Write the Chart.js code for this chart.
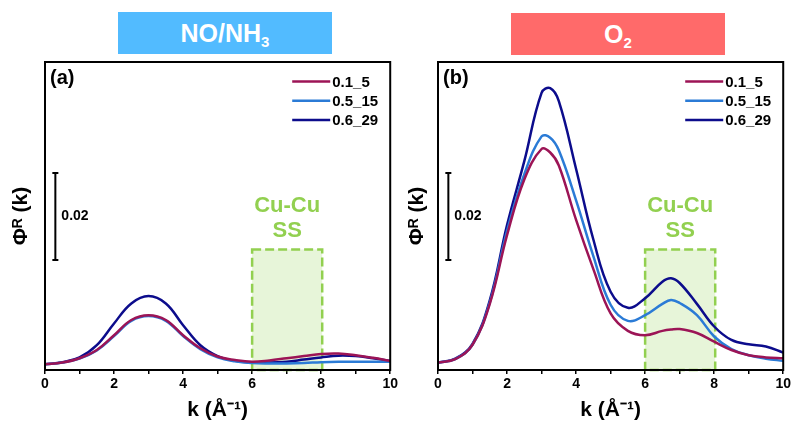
<!DOCTYPE html>
<html>
<head>
<meta charset="utf-8">
<script src="https://cdn.jsdelivr.net/npm/chart.js@4.4.0/dist/chart.umd.min.js"></script>
<style>
  body { margin: 0; background: #fff; width: 793px; height: 423px; overflow: hidden; position: relative;
         font-family: Arial, "Liberation Sans", sans-serif; }
  .tag { position: absolute; height: 42px; line-height: 42px; color: #fff; font-weight: bold;
         font-size: 25px; text-align: center; }
  .tag sub { font-size: 15px; vertical-align: -5px; line-height: 0; }
  #tagA { left: 118px; top: 12px; width: 214px; background: #52bbff; }
  #tagB { left: 511px; top: 13px; width: 214px; background: #ff6a6a; }
  canvas { position: absolute; top: 0; }
  #chartA { left: 0; }
  #chartB { left: 396px; }
</style>
</head>
<body>
<div class="tag" id="tagA">NO/NH<sub>3</sub></div>
<div class="tag" id="tagB">O<sub>2</sub></div>
<canvas id="chartA" width="400" height="423"></canvas>
<canvas id="chartB" width="397" height="423"></canvas>
<script>
const seriesLabels = ['0.1_5', '0.5_15', '0.6_29'];
const seriesColors = ['#9c1456', '#2b7bd6', '#0c0c8c'];

// (a) NO/NH3
const kA = [0, 0.5, 1, 1.5, 2, 2.5, 3, 3.5, 4, 4.5, 5, 5.5, 6, 6.5, 7, 7.5, 8, 8.5, 9, 9.5, 10];
const a_01_5  = [0.0013, 0.0017, 0.0027, 0.0046, 0.0080, 0.0115, 0.0126, 0.0115, 0.0080, 0.0050, 0.0031,
                 0.0023, 0.0019, 0.0022, 0.0027, 0.0032, 0.0037, 0.0038, 0.0034, 0.0028, 0.0021];
const a_05_15 = [0.0013, 0.0017, 0.0026, 0.0045, 0.0078, 0.0113, 0.0124, 0.0113, 0.0078, 0.0048, 0.0029,
                 0.0020, 0.0016, 0.0015, 0.0015, 0.0016, 0.0018, 0.0019, 0.0019, 0.0019, 0.0019];
const a_06_29 = [0.0013, 0.0018, 0.0029, 0.0057, 0.0107, 0.0153, 0.0170, 0.0153, 0.0103, 0.0057, 0.0032,
                 0.0021, 0.0017, 0.0017, 0.0019, 0.0024, 0.0029, 0.0033, 0.0032, 0.0027, 0.0021];

// (b) O2
const kB = [0, 0.5, 1, 1.5, 2, 2.5, 3, 3.25, 3.5, 4, 4.5, 5, 5.5, 6, 6.5, 6.75, 7, 7.5, 8, 8.5, 9, 9.5, 10];
const b_01_5  = [0.0017, 0.0025, 0.0058, 0.0152, 0.0310, 0.0438, 0.0508, 0.0500, 0.0470, 0.0345, 0.0232, 0.0130,
                 0.0090, 0.0080, 0.0090, 0.0093, 0.0094, 0.0085, 0.0065, 0.0046, 0.0034, 0.0029, 0.0027];
const b_05_15 = [0.0017, 0.0025, 0.0058, 0.0155, 0.0320, 0.0450, 0.0537, 0.0534, 0.0505, 0.0390, 0.0262, 0.0150,
                 0.0113, 0.0126, 0.0152, 0.0161, 0.0154, 0.0126, 0.0077, 0.0048, 0.0034, 0.0026, 0.0021];
const b_06_29 = [0.0017, 0.0026, 0.0060, 0.0160, 0.0333, 0.0480, 0.0637, 0.0648, 0.0618, 0.0462, 0.0300, 0.0180,
                 0.0143, 0.0165, 0.0203, 0.0211, 0.0200, 0.0152, 0.0100, 0.0069, 0.0059, 0.0054, 0.0040];

const kTicks = [0, 2, 4, 6, 8, 10];
const yRange = [0, 0.0708];
const scaleBar = [0.0253, 0.0453];   // 0.02 bar, drawn at k = 0.3
const ssRegion = [6, 8.03];          // Cu-Cu SS window in k
const ssTop = 0.0277;

const FONT = 'Arial, "Liberation Sans", sans-serif';
Chart.defaults.font.family = FONT;
Chart.defaults.color = '#000';

const panelDecor = {
  id: 'panelDecor',
  beforeDatasetsDraw(chart, args, opts) {
    const { ctx, scales: { x, y } } = chart;
    const l = x.getPixelForValue(ssRegion[0]), r = x.getPixelForValue(ssRegion[1]);
    const t = y.getPixelForValue(ssTop), b = y.getPixelForValue(0);
    ctx.save();
    ctx.fillStyle = 'rgba(146,208,80,0.22)';
    ctx.fillRect(l, t, r - l, b - t);
    ctx.setLineDash([9, 4]);
    ctx.lineWidth = 2.5;
    ctx.strokeStyle = '#92d050';
    ctx.strokeRect(l, t, r - l, b - t);
    ctx.restore();
  },
  afterDatasetsDraw(chart, args, opts) {
    const { ctx, chartArea: ca, scales: { x, y } } = chart;
    ctx.save();
    // frame
    ctx.lineWidth = 2;
    ctx.strokeStyle = '#000';
    ctx.strokeRect(ca.left, ca.top, ca.right - ca.left, ca.bottom - ca.top);

    // panel label
    ctx.fillStyle = '#000';
    ctx.font = 'bold 20px ' + FONT;
    ctx.textBaseline = 'top';
    ctx.textAlign = 'left';
    ctx.fillText(opts.label, ca.left + 5, ca.top + 6);

    // legend
    ctx.font = 'bold 15px ' + FONT;
    ctx.textBaseline = 'middle';
    chart.data.datasets.forEach((ds, i) => {
      const ly = ca.top + 19.5 + i * 19.3;
      ctx.strokeStyle = ds.borderColor;
      ctx.lineWidth = 2.5;
      ctx.beginPath();
      ctx.moveTo(ca.right - 98, ly);
      ctx.lineTo(ca.right - 60, ly);
      ctx.stroke();
      ctx.fillText(ds.label, ca.right - 58, ly + 1);
    });

    // scale bar
    const bx = x.getPixelForValue(0.3);
    const y1 = y.getPixelForValue(scaleBar[0]), y2 = y.getPixelForValue(scaleBar[1]);
    ctx.strokeStyle = '#000';
    ctx.lineWidth = 2;
    ctx.beginPath();
    ctx.moveTo(bx, y1); ctx.lineTo(bx, y2);
    ctx.moveTo(bx - 3, y1); ctx.lineTo(bx + 3, y1);
    ctx.moveTo(bx - 3, y2); ctx.lineTo(bx + 3, y2);
    ctx.stroke();
    ctx.font = 'bold 14px ' + FONT;
    ctx.fillText('0.02', bx + 6, (y1 + y2) / 2);

    // Cu-Cu SS text
    const cx = x.getPixelForValue((ssRegion[0] + ssRegion[1]) / 2);
    const top = y.getPixelForValue(ssTop);
    ctx.fillStyle = '#92d050';
    ctx.font = 'bold 22px ' + FONT;
    ctx.textAlign = 'center';
    ctx.fillText('Cu-Cu', cx, top - 44);
    ctx.fillText('SS', cx, top - 19);
    ctx.restore();
  }
};

function makePanel(id, label, k, series, yWidth) {
  const datasets = series.map((vals, i) => ({
    label: seriesLabels[i],
    data: k.map((kv, j) => ({ x: kv, y: vals[j] })),
    borderColor: seriesColors[i],
    borderWidth: 2.5,
    pointRadius: 0,
    fill: false,
    tension: 0.4
  }));
  return new Chart(document.getElementById(id), {
    type: 'line',
    data: { datasets },
    plugins: [panelDecor],
    options: {
      responsive: false,
      animation: false,
      layout: { padding: { top: 62, right: 8, bottom: 0, left: 0 } },
      plugins: {
        legend: { display: false },
        tooltip: { enabled: false },
        panelDecor: { label }
      },
      scales: {
        x: {
          type: 'linear',
          min: 0,
          max: 10,
          afterFit: s => { s.height = 53; },
          ticks: {
            stepSize: 1,
            autoSkip: false,
            maxRotation: 0,
            padding: 2,
            color: '#000',
            font: { size: 14, weight: 'bold' },
            callback: v => kTicks.includes(v) ? String(v) : ''
          },
          grid: { display: true, drawOnChartArea: false, drawTicks: true, tickLength: 4, color: '#000', lineWidth: 1.5 },
          border: { display: false },
          title: { display: true, text: 'k (Å⁻¹)', color: '#000', font: { size: 21, weight: 'bold' }, padding: { top: 0, bottom: 0 } }
        },
        y: {
          min: yRange[0],
          max: yRange[1],
          afterFit: s => { s.width = yWidth; },
          ticks: { display: false },
          grid: { display: false },
          border: { display: false },
          title: { display: true, text: 'Φᴿ (k)', color: '#000', font: { size: 21, weight: 'bold' }, padding: { top: 9, bottom: 0 } }
        }
      }
    }
  });
}

makePanel('chartA', '(a)', kA, [a_01_5, a_05_15, a_06_29], 45);
makePanel('chartB', '(b)', kB, [b_01_5, b_05_15, b_06_29], 42);
</script>
</body>
</html>
